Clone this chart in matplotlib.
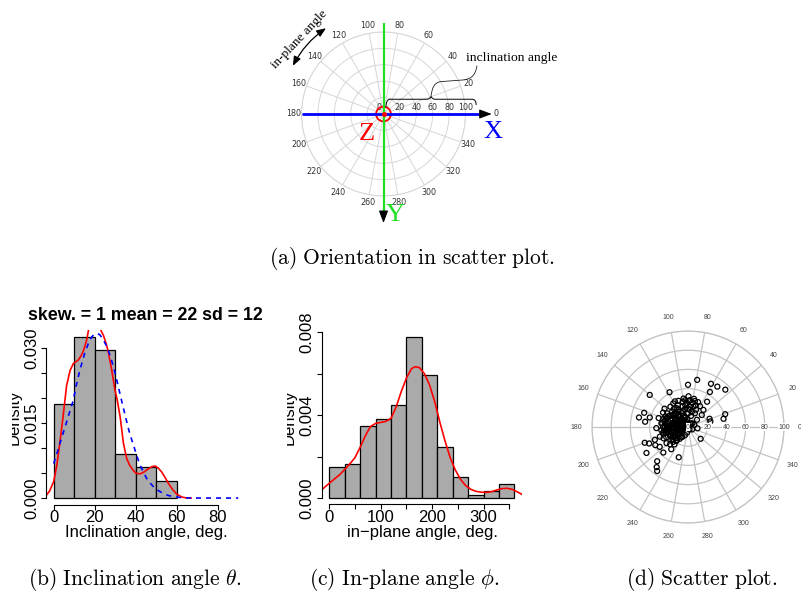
import numpy as np
import matplotlib.pyplot as plt
from matplotlib.path import Path
from matplotlib.patches import PathPatch, Circle, FancyArrowPatch
from matplotlib.transforms import Bbox, TransformedBbox

plt.rcParams['font.family'] = 'Liberation Sans'
plt.rcParams['mathtext.fontset'] = 'cm'

W, H = 801, 597

# (b) inclination angle histogram, kde and fitted curve
incl_edges = [0, 10, 20, 30, 40, 50, 60]
incl_density = [0.0189, 0.0323, 0.0297, 0.0089, 0.0063, 0.0034]
incl_kde_x = [-3.5, -2, 0, 1.5, 3, 4.5, 5.5, 6.3, 8, 9.6, 11, 12, 13, 14.4, 16.1, 17,
              18.5, 20, 21.5, 23.4, 24.2, 25.5, 26.6, 28.3, 29.9, 31, 32.5, 34, 35.6,
              37, 38.5, 40, 42, 44, 46, 48, 49.5, 51, 52.7, 54.5, 56, 58, 60, 62.5, 65, 67]
incl_kde_y = [0.0006, 0.0014, 0.0033, 0.0065, 0.0110, 0.0160, 0.0196, 0.0225, 0.0255,
              0.0269, 0.0273, 0.0276, 0.0282, 0.0293, 0.0316, 0.0336, 0.0352, 0.0356,
              0.0350, 0.0332, 0.0326, 0.0310, 0.0293, 0.0256, 0.0216, 0.0196, 0.0160,
              0.0110, 0.0079, 0.0066, 0.0057, 0.0050, 0.0048, 0.0052, 0.0058, 0.0063,
              0.0064, 0.0060, 0.0052, 0.0040, 0.0029, 0.0017, 0.0008, 0.0002, 0.0, 0.0]
incl_fit_x = [0, 2, 4, 6, 8, 9.6, 11, 12.8, 15, 16.9, 18.5, 20, 21.5, 22.6, 24, 25.9,
              27.5, 29.1, 30.7, 32.3, 34, 35.6, 37, 38.9, 40.5, 42.1, 44, 45.4, 47,
              48.6, 51, 53.5, 56, 58.4, 62, 66, 70, 80, 90]
incl_fit_y = [0.0069, 0.0095, 0.0122, 0.0148, 0.0175, 0.0196, 0.0225, 0.0256, 0.0288,
              0.0309, 0.0322, 0.0328, 0.0329, 0.0326, 0.0318, 0.0303, 0.0285, 0.0263,
              0.0237, 0.0209, 0.0180, 0.0153, 0.0130, 0.0106, 0.0085, 0.0066, 0.0050,
              0.0039, 0.0030, 0.0023, 0.0015, 0.0009, 0.0005, 0.0003, 0.0001, 0.0,
              0.0, 0.0, 0.0]

# (c) in-plane angle histogram and kde
inplane_edges = [0, 30, 60, 90, 120, 150, 180, 210, 240, 270, 300, 330, 360]
inplane_density = [0.00148, 0.00164, 0.00348, 0.00380, 0.00448, 0.00778,
                   0.00596, 0.00248, 0.00100, 0.00014, 0.00032, 0.00066]
inplane_kde_x = [-15, 0, 10, 20, 30, 40, 50, 60, 70, 80, 90, 100, 110, 120, 130, 140,
                 150, 160, 167, 175, 185, 195, 205, 215, 225, 235, 245, 255, 265, 275,
                 285, 295, 305, 315, 325, 335, 345, 355, 365, 374]
inplane_kde_y = [0.00039, 0.00071, 0.00092, 0.00112, 0.00138, 0.00165, 0.00195,
                 0.00245, 0.00300, 0.00345, 0.00360, 0.00365, 0.00370, 0.00385,
                 0.00440, 0.00515, 0.00580, 0.00625, 0.00634, 0.00630, 0.00600,
                 0.00545, 0.00465, 0.00365, 0.00275, 0.00195, 0.00135, 0.00090,
                 0.00060, 0.00042, 0.00032, 0.00028, 0.00027, 0.00030, 0.00038,
                 0.00045, 0.00047, 0.00042, 0.00030, 0.00018]

# (d) scatter: in-plane angle (deg) and inclination angle
scatter_theta = [90, 79, 62, 54, 45, 58, 118, 140, 53, 60,
                 19, 13, 21, 14, 317, 352, 253, 228, 232, 235,
                 212, 200, 203, 209, 169, 173, 162, 166, 233, 224,
                 232, 205, 199, 182, 163, 150, 142, 131, 117, 110,
                 102, 89, 86, 75, 68, 75, 63, 39, 97, 208,
                 191, 229, 218, 172, 158, 141, 122, 132, 178, 179,
                 188, 198, 196, 110, 45, 106, 76, 89, 165, 179,
                 218, 217, 215, 237, 151, 121, 122, 48, 41, 99,
                 201, 215, 226,
                 150, 170, 190, 200, 160, 140, 180, 210, 120, 165,
                 195, 175, 150, 185, 205, 160, 140, 190, 170, 215,
                 130, 180, 155, 200, 165, 145, 190, 175, 210, 160,
                 185, 135, 200, 170, 150, 195, 165, 180, 225, 230,
                 235, 240, 250, 260, 100, 95, 105, 110, 115, 100,
                 105, 115, 60, 40, 20, 300, 330, 75, 90, 85,
                 155, 172, 188, 205, 220, 145, 128, 183, 168, 197,
                 80, 92, 70, 84, 96, 65, 78, 88,
                 142, 158, 176, 193, 212, 187, 163, 148, 203, 178,
                 126, 136, 152, 168, 182, 199, 214, 226, 171, 157,
                 184, 176, 192, 207, 162, 147, 133, 118, 108, 194]
scatter_r = [44, 50, 51, 52, 55, 43, 41, 52, 33, 25,
             41, 38, 24, 24, 18, 10, 33, 48, 53, 56,
             51, 48, 44, 39, 52, 45, 48, 41, 29, 26,
             23, 28, 31, 33, 32, 30, 31, 28, 30, 29,
             27, 32, 28, 28, 28, 22, 16, 12, 23, 21,
             26, 18, 11, 28, 24, 20, 19, 10, 13, 19,
             22, 16, 5, 4, 5, 11, 16, 19, 21, 24,
             22, 28, 16, 12, 11, 23, 29, 24, 19, 30,
             37, 36, 37,
             3, 4, 5, 6, 6, 7, 7, 8, 8, 9,
             9, 10, 10, 11, 11, 12, 12, 13, 13, 14,
             14, 15, 15, 16, 16, 17, 17, 18, 18, 19,
             20, 20, 21, 22, 23, 24, 25, 26, 22, 19,
             15, 12, 9, 6, 5, 8, 10, 13, 16, 19,
             22, 25, 4, 6, 7, 3, 5, 12, 14, 18,
             26, 27, 24, 25, 20, 21, 24, 8, 16, 19,
             26, 25, 24, 21, 28, 20, 30, 27,
             10, 9, 6, 8, 17, 28, 8, 14, 7, 22,
             16, 23, 19, 25, 12, 13, 11, 16, 4, 12,
             17, 20, 22, 20, 27, 26, 18, 21, 17, 27]

angle_ticks = list(range(0, 360, 20))
radius_ticks = [0, 20, 40, 60, 80, 100]

fig = plt.figure(figsize=(W / 100, H / 100), dpi=100)


def rect(left, top, right, bottom):
    return [left / W, 1 - bottom / H, (right - left) / W, (bottom - top) / H]


def ftext(x, y, s, **kw):
    return fig.text(x / W, 1 - y / H, s, **kw)


def polar_grid(r, color, lw):
    ax = fig.add_axes(r, projection='polar')
    ax.set_ylim(0, 100)
    ax.set_xticks(np.deg2rad(angle_ticks))
    ax.set_yticks(radius_ticks[1:])
    ax.set_xticklabels([])
    ax.set_yticklabels([])
    ax.tick_params(length=0)
    ax.grid(True, color=color, lw=lw)
    ax.spines['polar'].set_color(color)
    ax.spines['polar'].set_linewidth(lw)
    return ax


def r_axes(ax, xt, xl, yt, yl):
    ax.patch.set_visible(False)
    ax.spines[['top', 'right']].set_visible(False)
    ax.spines['bottom'].set_bounds(xt[0], xt[-1])
    ax.spines['left'].set_bounds(yt[0], yt[-1])
    ax.spines['left'].set_linewidth(0.8)
    ax.spines['bottom'].set_linewidth(0.8)
    ax.set_xticks(xt, xl)
    ax.set_yticks(yt, yl)
    ax.tick_params(direction='out', length=3.6, width=0.8, labelsize=12)
    ax.tick_params(axis='x', pad=0.5)
    ax.tick_params(axis='y', pad=1.5)
    for t in ax.get_yticklabels():
        t.set_rotation(90)
        t.set_va('center')


def side_label(x, y, clip_left, s):
    t = ftext(x, y, s, rotation=90, ha='center', va='center', fontsize=12)
    t.set_clip_box(TransformedBbox(Bbox.from_extents(clip_left / W, 0, 1, 1), fig.transFigure))
    t.set_clip_on(True)


# ---------------- (a) orientation sketch ----------------
ra = rect(301.5, 32, 465.5, 196)
pa = polar_grid(ra, '#d6d6d6', 0.7)
for a in angle_ticks[1:]:
    pa.text(np.deg2rad(a), 110, str(a), ha='center', va='center',
            fontsize=5.8, color='#333333', family='DejaVu Sans')
for r in radius_ticks:
    pa.annotate(str(r), (0, r), xytext=(-3.5 if r == 0 else 0, 5), textcoords='offset points',
                ha='center', va='center', fontsize=5.8, color='#333333', family='DejaVu Sans')

ov = fig.add_axes(ra)
ov.set_xlim(-100, 100)
ov.set_ylim(-100, 100)
ov.axis('off')
ov.plot([-100, 122], [0, 0], color='#0000ff', lw=2, clip_on=False, solid_capstyle='butt')
ov.plot([0, 0], [111, -122], color='#1fe01f', lw=1.6, clip_on=False, solid_capstyle='butt')
head = dict(arrowstyle='-|>,head_length=0.75,head_width=0.28', color='k', lw=0.8,
            shrinkA=0, shrinkB=0, mutation_scale=10)
ov.annotate('', xy=(132, 0), xytext=(120, 0), arrowprops=head, annotation_clip=False)
ov.annotate('', xy=(0, -133), xytext=(0, -120), arrowprops=head, annotation_clip=False)
ov.add_patch(Circle((0, 0), 9, fill=False, ec='red', lw=1.3, clip_on=False))
ov.plot(0, 0, 'o', color='red', ms=2.5, clip_on=False)
ov.text(137.2, 0, '0', ha='center', va='center', fontsize=5.8, color='#333333', family='DejaVu Sans')
ov.text(-20.5, -24, 'Z', color='red', fontsize=19, family='Liberation Serif', ha='center', va='center')
ov.text(134, -22, 'X', color='blue', fontsize=19, family='Liberation Serif', ha='center', va='center')
ov.text(14.5, -123, 'Y', color='#1fe01f', fontsize=19, family='Liberation Serif', ha='center', va='center')
ov.text(156.7, 68, 'inclination angle', ha='center', va='center', fontsize=9.7,
        family='Liberation Serif')
ov.text(-103, 91.5, 'in-plane angle', ha='center', va='center', fontsize=9.5,
        family='Liberation Serif', rotation=46.7)
ov.add_patch(FancyArrowPatch((-112, 55.7), (-67.3, 106.5),
                             arrowstyle='<|-|>,head_length=0.55,head_width=0.22',
                             connectionstyle='arc3,rad=-0.14', mutation_scale=10,
                             lw=0.9, color='k', clip_on=False))
brace = Path([(3, 8), (3, 18), (8, 18), (53, 18), (57, 18), (58, 21.5),
              (59, 18), (63, 18), (108, 18), (113, 18), (113, 11)],
             [Path.MOVETO, Path.CURVE3, Path.CURVE3, Path.LINETO, Path.CURVE3, Path.CURVE3,
              Path.CURVE3, Path.CURVE3, Path.LINETO, Path.CURVE3, Path.CURVE3])
ov.add_patch(PathPatch(brace, fill=False, lw=0.7, ec='k', clip_on=False))
wave = Path([(58, 21.5), (59, 32), (62, 38.5), (70, 39.5), (97, 41.5),
             (106, 42.5), (112, 46), (114, 59)],
            [Path.MOVETO, Path.CURVE4, Path.CURVE4, Path.CURVE4, Path.LINETO,
             Path.CURVE4, Path.CURVE4, Path.CURVE4])
ov.add_patch(PathPatch(wave, fill=False, lw=0.6, ec='#222222', clip_on=False))

# ---------------- (b) inclination angle ----------------
axb = fig.add_axes(rect(46.3, 330.2, 245.6, 504.5))
axb.bar(incl_edges[:-1], incl_density, width=np.diff(incl_edges), align='edge',
        color='#aaaaaa', edgecolor='black', lw=0.9)
axb.plot(incl_kde_x, incl_kde_y, color='red', lw=1.2)
axb.plot(incl_fit_x, incl_fit_y, color='blue', lw=1.2, ls=(0, (3, 3)))
axb.set_xlim(-3.6, 93.6)
axb.set_ylim(-0.00129, 0.03356)
r_axes(axb, [0, 20, 40, 60, 80], ['0', '20', '40', '60', '80'],
       [0, 0.005, 0.010, 0.015, 0.020, 0.025, 0.030],
       ['0.000', '', '', '0.015', '', '', '0.030'])
ftext(145.5, 315, 'skew. = 1 mean = 22 sd = 12', ha='center', va='center',
      fontsize=12.8, fontweight='bold')
ftext(146, 532, 'Inclination angle, deg.', ha='center', va='center', fontsize=12)
side_label(14.3, 417.3, 11.7, 'Density')

# ---------------- (c) in-plane angle ----------------
axc = fig.add_axes(rect(321.9, 330.5, 521.9, 504.4))
axc.bar(inplane_edges[:-1], inplane_density, width=np.diff(inplane_edges), align='edge',
        color='#aaaaaa', edgecolor='black', lw=0.9)
axc.plot(inplane_kde_x, inplane_kde_y, color='red', lw=1.2)
axc.set_xlim(-14.4, 374.4)
axc.set_ylim(-0.000311, 0.00809)
r_axes(axc, [0, 50, 100, 150, 200, 250, 300, 350],
       ['0', '', '100', '', '200', '', '300', ''],
       [0, 0.002, 0.004, 0.006, 0.008], ['0.000', '', '0.004', '', '0.008'])
ftext(422, 532, 'in\u2212plane angle, deg.', ha='center', va='center', fontsize=12)
side_label(289.3, 417.5, 286.7, 'Density')

# ---------------- (d) scatter plot ----------------
pd_ = polar_grid(rect(592, 331, 784, 523), '#c4c4c4', 0.9)
pd_.scatter(np.deg2rad(scatter_theta), scatter_r, s=13, facecolors='none',
            edgecolors='black', lw=0.9, zorder=3)
for a in angle_ticks:
    pd_.text(np.deg2rad(a), 116, str(a), ha='center', va='center', fontsize=5,
             color='#444444')
for r in radius_ticks:
    pd_.text(0, r, str(r), ha='center', va='center', fontsize=5, color='#444444', zorder=4,
             bbox=dict(fc='white', ec='none', pad=0.4))

# ---------------- captions ----------------
ftext(412, 258.5, r'$\mathrm{(a)\ Orientation\ in\ scatter\ plot.}$', ha='center', va='center',
      fontsize=15.5)
ftext(135, 579.5, r'$\mathrm{(b)\ Inclination\ angle\ }\theta\mathrm{.}$', ha='center',
      va='center', fontsize=15.5)
ftext(404, 579.5, r'$\mathrm{(c)\ In}$-$\mathrm{plane\ angle\ }\phi\mathrm{.}$', ha='center',
      va='center', fontsize=15.5)
ftext(702, 579.5, r'$\mathrm{(d)\ Scatter\ plot.}$', ha='center', va='center', fontsize=15.5)

fig.savefig('out.png', dpi=100)
